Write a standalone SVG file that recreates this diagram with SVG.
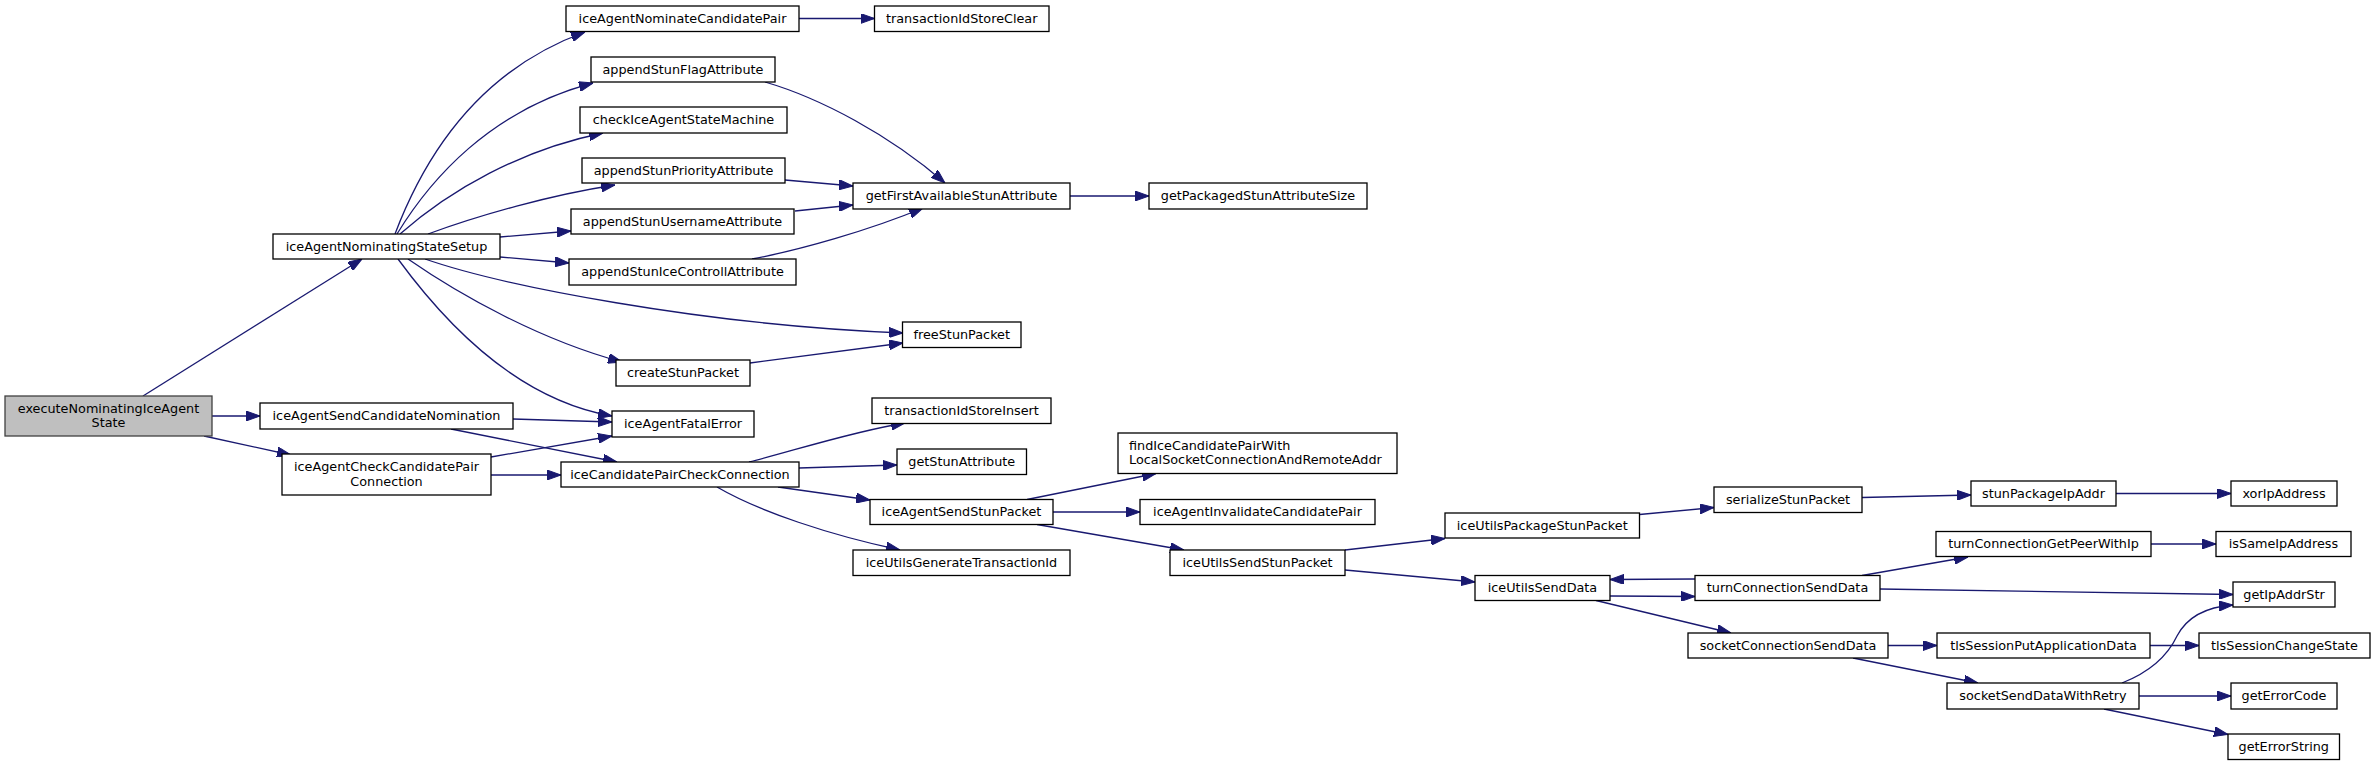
<svg xmlns="http://www.w3.org/2000/svg" width="2375" height="765" viewBox="0 0 2375 765">
<style>
.n rect{fill:#fff;stroke:#000;stroke-width:1.3}
.r rect{fill:#bfbfbf;stroke:#404040;stroke-width:1.3}
text{font-family:"DejaVu Sans","Liberation Sans",sans-serif;font-size:12.8px;text-anchor:middle;fill:#000}
.l{text-anchor:start}
#edges path{fill:none;stroke:#191970;stroke-width:1.3;marker-end:url(#a)}
</style>
<defs>
<marker id="a" markerWidth="14" markerHeight="10" refX="14" refY="5" orient="auto" markerUnits="userSpaceOnUse"><path d="M0,0 L14,5 L0,10 z" fill="#191970" stroke="#191970" stroke-width="1"/></marker>
</defs>
<rect width="2375" height="765" fill="#fff"/>
<g id="edges">
<path d="M143,396 L362,259"/>
<path d="M212,416 L260,416"/>
<path d="M204,436 L291,455"/>
<path d="M395,234 C425,155 480,70 585,32"/>
<path d="M397,234 C430,180 490,110 593,83"/>
<path d="M400,234 C450,190 520,150 603,133"/>
<path d="M428,234 C480,215 550,195 615,185"/>
<path d="M500,237 L571,231"/>
<path d="M500,257 L569,263"/>
<path d="M425,259 C500,285 700,325 903,333"/>
<path d="M408,259 C460,295 540,340 622,362"/>
<path d="M398,259 C450,330 520,400 612,416"/>
<path d="M750,363 L903,343"/>
<path d="M765,82 C820,98 890,135 945,183"/>
<path d="M785,180 L853,186"/>
<path d="M795,211 L853,205"/>
<path d="M752,259 C800,250 870,230 923,208"/>
<path d="M1070,196 L1149,196"/>
<path d="M799,18.5 L874.5,18.5"/>
<path d="M513,419 L612,422"/>
<path d="M451,429 L617,462"/>
<path d="M491,457 L612,436"/>
<path d="M491,475 L561,475"/>
<path d="M749,462 C790,452 850,432 905,423"/>
<path d="M799,468 L897,465"/>
<path d="M778,487 L870,500"/>
<path d="M717,487 C760,512 830,535 900,550"/>
<path d="M1027,499.5 L1156,473.5"/>
<path d="M1053,512 L1140,512"/>
<path d="M1037,524.5 L1184,550"/>
<path d="M1345,550 L1445,538.5"/>
<path d="M1345,570 L1475,582"/>
<path d="M1639.5,514.5 L1714,507.5"/>
<path d="M1862,497.5 L1971,495"/>
<path d="M2116,493.5 L2231,493.5"/>
<path d="M1610,596 L1695,596.5"/>
<path d="M1695,579 L1610,579.5"/>
<path d="M1596,600.5 L1731,633"/>
<path d="M1862,575.5 L1968,557"/>
<path d="M1880,589 L2233,594.5"/>
<path d="M2150.5,544 L2216,544"/>
<path d="M1888,645.5 L1937,645.5"/>
<path d="M2150,645.5 L2199,645.5"/>
<path d="M1853,658 L1978,683"/>
<path d="M2122,683 C2150,672 2168,655 2177,636 C2187,617 2205,607 2233,605"/>
<path d="M2139,696 L2231,696"/>
<path d="M2104,709 L2228,734.5"/>
</g>
<g id="executeNominatingIceAgentState" class="r"><rect x="5" y="396" width="207" height="40"/><text x="108.5" y="412.5">executeNominatingIceAgent</text><text x="108.5" y="427.3">State</text></g>
<g id="iceAgentNominatingStateSetup" class="n"><rect x="273" y="234" width="227" height="25"/><text x="386.5" y="250.5">iceAgentNominatingStateSetup</text></g>
<g id="iceAgentSendCandidateNomination" class="n"><rect x="260" y="403" width="253" height="26"/><text x="386.5" y="420">iceAgentSendCandidateNomination</text></g>
<g id="iceAgentCheckCandidatePairConnection" class="n"><rect x="282" y="454" width="209" height="41"/><text x="386.5" y="471">iceAgentCheckCandidatePair</text><text x="386.5" y="485.8">Connection</text></g>
<g id="iceAgentNominateCandidatePair" class="n"><rect x="566" y="6" width="233" height="25.5"/><text x="682.5" y="22.8">iceAgentNominateCandidatePair</text></g>
<g id="appendStunFlagAttribute" class="n"><rect x="591" y="57" width="184" height="25"/><text x="683" y="73.5">appendStunFlagAttribute</text></g>
<g id="checkIceAgentStateMachine" class="n"><rect x="580" y="107" width="207" height="26"/><text x="683.5" y="124">checkIceAgentStateMachine</text></g>
<g id="appendStunPriorityAttribute" class="n"><rect x="582" y="158" width="203" height="25"/><text x="683.5" y="174.5">appendStunPriorityAttribute</text></g>
<g id="appendStunUsernameAttribute" class="n"><rect x="571" y="209" width="223" height="25"/><text x="682.5" y="225.5">appendStunUsernameAttribute</text></g>
<g id="appendStunIceControllAttribute" class="n"><rect x="569" y="259" width="227" height="26"/><text x="682.5" y="276">appendStunIceControllAttribute</text></g>
<g id="createStunPacket" class="n"><rect x="616" y="360" width="134" height="26"/><text x="683" y="377">createStunPacket</text></g>
<g id="iceAgentFatalError" class="n"><rect x="612" y="411" width="142" height="26"/><text x="683" y="428">iceAgentFatalError</text></g>
<g id="iceCandidatePairCheckConnection" class="n"><rect x="561" y="462" width="238" height="25"/><text x="680" y="478.5">iceCandidatePairCheckConnection</text></g>
<g id="transactionIdStoreClear" class="n"><rect x="874.5" y="6" width="174.5" height="25.5"/><text x="961.75" y="22.8">transactionIdStoreClear</text></g>
<g id="getFirstAvailableStunAttribute" class="n"><rect x="853" y="183" width="217" height="26"/><text x="961.5" y="200">getFirstAvailableStunAttribute</text></g>
<g id="getPackagedStunAttributeSize" class="n"><rect x="1149" y="183" width="218" height="26"/><text x="1258" y="200">getPackagedStunAttributeSize</text></g>
<g id="freeStunPacket" class="n"><rect x="902.5" y="322" width="118.5" height="25.5"/><text x="961.75" y="338.8">freeStunPacket</text></g>
<g id="transactionIdStoreInsert" class="n"><rect x="872" y="398" width="179" height="25.5"/><text x="961.5" y="414.8">transactionIdStoreInsert</text></g>
<g id="getStunAttribute" class="n"><rect x="897" y="449" width="129.5" height="25.5"/><text x="961.75" y="465.8">getStunAttribute</text></g>
<g id="iceAgentSendStunPacket" class="n"><rect x="870" y="499.5" width="183" height="25"/><text x="961.5" y="516">iceAgentSendStunPacket</text></g>
<g id="iceUtilsGenerateTransactionId" class="n"><rect x="853" y="550" width="217" height="25.5"/><text x="961.5" y="566.8">iceUtilsGenerateTransactionId</text></g>
<g id="findIceCandidatePairWithLocalSocketConnectionAndRemoteAddr" class="n"><rect x="1118" y="433" width="279" height="40.5"/><text class="l" x="1129" y="449.5">findIceCandidatePairWith</text><text class="l" x="1129" y="464.3">LocalSocketConnectionAndRemoteAddr</text></g>
<g id="iceAgentInvalidateCandidatePair" class="n"><rect x="1140" y="499.5" width="235" height="25"/><text x="1257.5" y="516">iceAgentInvalidateCandidatePair</text></g>
<g id="iceUtilsSendStunPacket" class="n"><rect x="1170" y="550" width="175" height="25.5"/><text x="1257.5" y="566.8">iceUtilsSendStunPacket</text></g>
<g id="iceUtilsPackageStunPacket" class="n"><rect x="1445" y="513" width="194.5" height="25"/><text x="1542.25" y="529.5">iceUtilsPackageStunPacket</text></g>
<g id="iceUtilsSendData" class="n"><rect x="1475" y="575.5" width="135" height="25"/><text x="1542.5" y="592">iceUtilsSendData</text></g>
<g id="serializeStunPacket" class="n"><rect x="1714" y="487" width="148" height="25.5"/><text x="1788" y="503.8">serializeStunPacket</text></g>
<g id="stunPackageIpAddr" class="n"><rect x="1971" y="481" width="145" height="25"/><text x="2043.5" y="497.5">stunPackageIpAddr</text></g>
<g id="xorIpAddress" class="n"><rect x="2231" y="481" width="106" height="25"/><text x="2284" y="497.5">xorIpAddress</text></g>
<g id="turnConnectionGetPeerWithIp" class="n"><rect x="1936" y="531.5" width="215" height="25"/><text x="2043.5" y="548">turnConnectionGetPeerWithIp</text></g>
<g id="isSameIpAddress" class="n"><rect x="2216" y="531.5" width="135" height="25"/><text x="2283.5" y="548">isSameIpAddress</text></g>
<g id="turnConnectionSendData" class="n"><rect x="1695" y="575.5" width="185" height="25"/><text x="1787.5" y="592">turnConnectionSendData</text></g>
<g id="getIpAddrStr" class="n"><rect x="2233" y="582" width="102" height="25"/><text x="2284" y="598.5">getIpAddrStr</text></g>
<g id="socketConnectionSendData" class="n"><rect x="1688" y="633" width="200" height="25"/><text x="1788" y="649.5">socketConnectionSendData</text></g>
<g id="tlsSessionPutApplicationData" class="n"><rect x="1937" y="633" width="213" height="25"/><text x="2043.5" y="649.5">tlsSessionPutApplicationData</text></g>
<g id="tlsSessionChangeState" class="n"><rect x="2199" y="633" width="171" height="25"/><text x="2284.5" y="649.5">tlsSessionChangeState</text></g>
<g id="socketSendDataWithRetry" class="n"><rect x="1947" y="683" width="192" height="26"/><text x="2043" y="700">socketSendDataWithRetry</text></g>
<g id="getErrorCode" class="n"><rect x="2231" y="683" width="106" height="26"/><text x="2284" y="700">getErrorCode</text></g>
<g id="getErrorString" class="n"><rect x="2228" y="734" width="111.5" height="25.5"/><text x="2283.75" y="750.8">getErrorString</text></g>
</svg>
